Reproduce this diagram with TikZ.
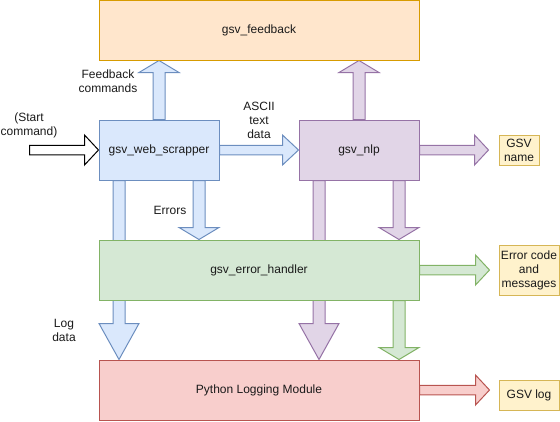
\documentclass[tikz,border=0pt]{standalone}
\usepackage{fontspec}
\setmainfont{Liberation Sans}
\usepackage{xcolor}
\usepackage{tikz}
\usetikzlibrary{calc}
\usetikzlibrary{backgrounds}

\definecolor{blueFill}{HTML}{DAE8FC}
\definecolor{blueLine}{HTML}{6C8EBF}
\definecolor{orangeFill}{HTML}{FFE6CC}
\definecolor{orangeLine}{HTML}{D79B00}
\definecolor{purpleFill}{HTML}{E1D5E7}
\definecolor{purpleLine}{HTML}{9673A6}
\definecolor{greenFill}{HTML}{D5E8D4}
\definecolor{greenLine}{HTML}{82B366}
\definecolor{redFill}{HTML}{F8CECC}
\definecolor{redLine}{HTML}{B85450}
\definecolor{yellowFill}{HTML}{FFF2CC}
\definecolor{yellowLine}{HTML}{D6B656}
\definecolor{ink}{HTML}{1A1A1A}

\tikzset{
	fatshaft/.store in=\fatshaft, fathead/.store in=\fathead, fatlen/.store in=\fatlen,
	fatshaft=6bp, fathead=20bp, fatlen=12bp,
	fat/.style={line width=1bp, to path={let \p1=(\tikztostart), \p2=(\tikztotarget), \p3=($(\p2)!\fatlen!(\p1)$) in
		($(\p1)!\fatshaft!90:(\p2)$) -- ($(\p3)!\fatshaft!-90:(\p1)$) -- ($(\p3)!\fathead!-90:(\p1)$) -- (\p2)
		-- ($(\p3)!\fathead!90:(\p1)$) -- ($(\p3)!\fatshaft!90:(\p1)$) -- ($(\p1)!\fatshaft!-90:(\p2)$) -- cycle}},
	slim/.style={fat, fatshaft=4.75bp, fathead=15bp, fatlen=14bp}
}

\begin{document}
\begin{tikzpicture}[x=1bp, y=-1bp, font=\fontsize{12bp}{13.8bp}\selectfont]
		\useasboundingbox (0,0) rectangle (560,421);
		\begin{scope}[every node/.style = {draw, line width=1bp, inner sep=0pt, text=ink}]
			\node[fill=orangeFill, draw=orangeLine, minimum width=320bp, minimum height=59.5bp] (fb) at (259,30.25) {gsv\_feedback};
			\node[fill=blueFill, draw=blueLine, minimum width=120bp, minimum height=60bp] (scr) at (159,150) {gsv\_web\_scrapper};
			\node[fill=purpleFill, draw=purpleLine, minimum width=120bp, minimum height=60bp] (nlp) at (359,150) {gsv\_nlp};
			\node[fill=greenFill, draw=greenLine, minimum width=320bp, minimum height=60bp] (err) at (259,270) {gsv\_error\_handler};
			\node[fill=redFill, draw=redLine, minimum width=320bp, minimum height=60bp] (log) at (259,390) {Python Logging Module};
			\node[fill=yellowFill, draw=yellowLine, minimum width=40bp, minimum height=30bp, align=center] (gsvname) at (519,150.3) {GSV\\name};
			\node[fill=yellowFill, draw=yellowLine, minimum width=60bp, minimum height=50bp, align=center] (errcode) at (529,270.3) {Error code\\and\\messages};
			\node[fill=yellowFill, draw=yellowLine, minimum width=60bp, minimum height=30bp] (gsvlog) at (529,395.3) {GSV log};
		\end{scope}
		\begin{scope}[every node/.style = {align=center, inner sep=0pt, text=ink}]
			\node (fbtext) at (108,81) {Feedback\\commands};
			\node (starttext) at (29,125.5) {(Start\\command)};
			\node (errtext) at (170,210.5) {Errors};
			\node (asciitext) at (259,120.5) {ASCII\\text\\data};
			\node (logtext) at (64,330.5) {Log\\data};
		\end{scope}
		\coordinate (start) at (29.5,150);
		\begin{scope}[on background layer]
			\path[slim, fill=white, draw=black] (start) to (scr.west);
			\path[fat, fill=blueFill, draw=blueLine] (scr.north) to (scr.north |- fb.south);
			\path[fat, fill=blueFill, draw=blueLine] ([xshift=40bp]scr.south) to ([xshift=40bp]scr.south |- err.north);
			\path[fat, fatlen=36bp, fill=blueFill, draw=blueLine] ([xshift=-40bp]scr.south) to ([xshift=-40bp]scr.south |- log.north);
			\path[slim, fatlen=16bp, fill=blueFill, draw=blueLine] (scr.east) to (nlp.west);
			\path[fat, fill=purpleFill, draw=purpleLine] (nlp.north) to (nlp.north |- fb.south);
			\path[fat, fill=purpleFill, draw=purpleLine] ([xshift=40bp]nlp.south) to ([xshift=40bp]nlp.south |- err.north);
			\path[fat, fatlen=36bp, fill=purpleFill, draw=purpleLine] ([xshift=-40bp]nlp.south) to ([xshift=-40bp]nlp.south |- log.north);
			\path[slim, fill=purpleFill, draw=purpleLine] (nlp.east) to ([xshift=-10bp]gsvname.west |- nlp.east);
			\path[slim, fill=greenFill, draw=greenLine] (err.east) to ([xshift=-9bp]errcode.west |- err.east);
			\path[fat, fill=greenFill, draw=greenLine] ([xshift=140bp]err.south) to ([xshift=140bp]err.south |- log.north);
			\path[slim, fill=redFill, draw=redLine] (log.east) to ([xshift=-9bp]gsvlog.west |- log.east);
		\end{scope}
	\end{tikzpicture}
\end{document}
